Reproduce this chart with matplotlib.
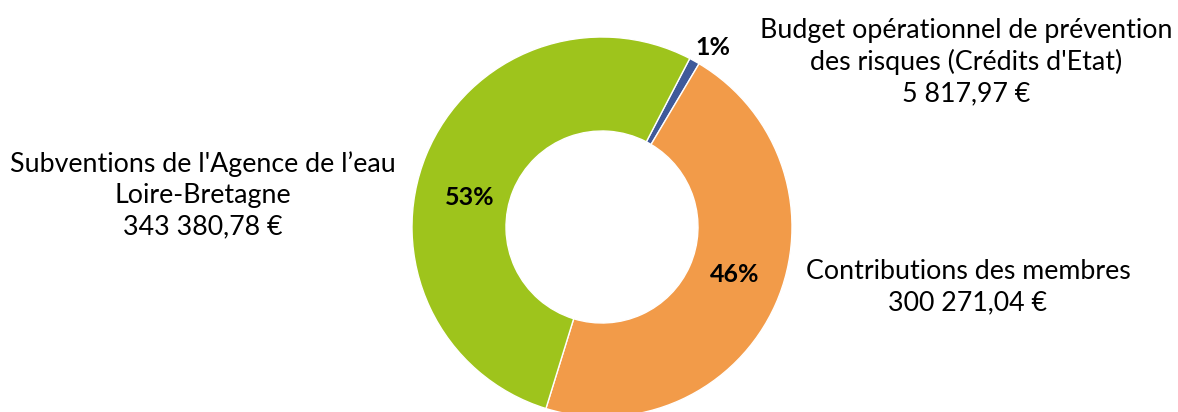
import matplotlib.pyplot as plt

# data
labels = ["Budget opérationnel de prévention\ndes risques (Crédits d'Etat)\n5 817,97 €",
          "Contributions des membres\n300 271,04 €",
          "Subventions de l'Agence de l’eau\nLoire-Bretagne\n343 380,78 €"]
values = [5817.97, 300271.04, 343380.78]
colors = ['#3f5a9a', '#f29b49', '#9ec41c']

plt.rcParams['font.family'] = ['Lato', 'DejaVu Sans']

fig = plt.figure(figsize=(11.78, 4.12), dpi=100)
ax = fig.add_axes([0, 0, 1, 1])
ax.set_xlim(0, 1178)
ax.set_ylim(0, 412)
ax.set_aspect('equal')
ax.axis('off')

cx, cy, R = 602, 412 - 227, 190

wedges, texts, pcts = ax.pie(values, colors=colors, center=(cx, cy), radius=R,
                             startangle=62.5, counterclock=False,
                             autopct=lambda p: '%d%%' % round(p),
                             pctdistance=0.76,
                             wedgeprops=dict(width=94, edgecolor='white', linewidth=1),
                             textprops=dict(fontsize=18, fontweight='bold', color='black'))
ax.set_xlim(0, 1178)
ax.set_ylim(0, 412)

# move the small label outside the ring
pcts[0].set_position((713, 412 - 47))
pcts[2].set_position((470, 412 - 197))
pcts[1].set_position((735, 412 - 275))

label_pos = [(966, 412 - 62), (968, 412 - 287), (203, 412 - 195)]
for txt, (x, y) in zip(labels, label_pos):
    ax.text(x, y, txt, ha='center', va='center', fontsize=19.3, linespacing=1.3)

fig.savefig('out.png', dpi=100)
